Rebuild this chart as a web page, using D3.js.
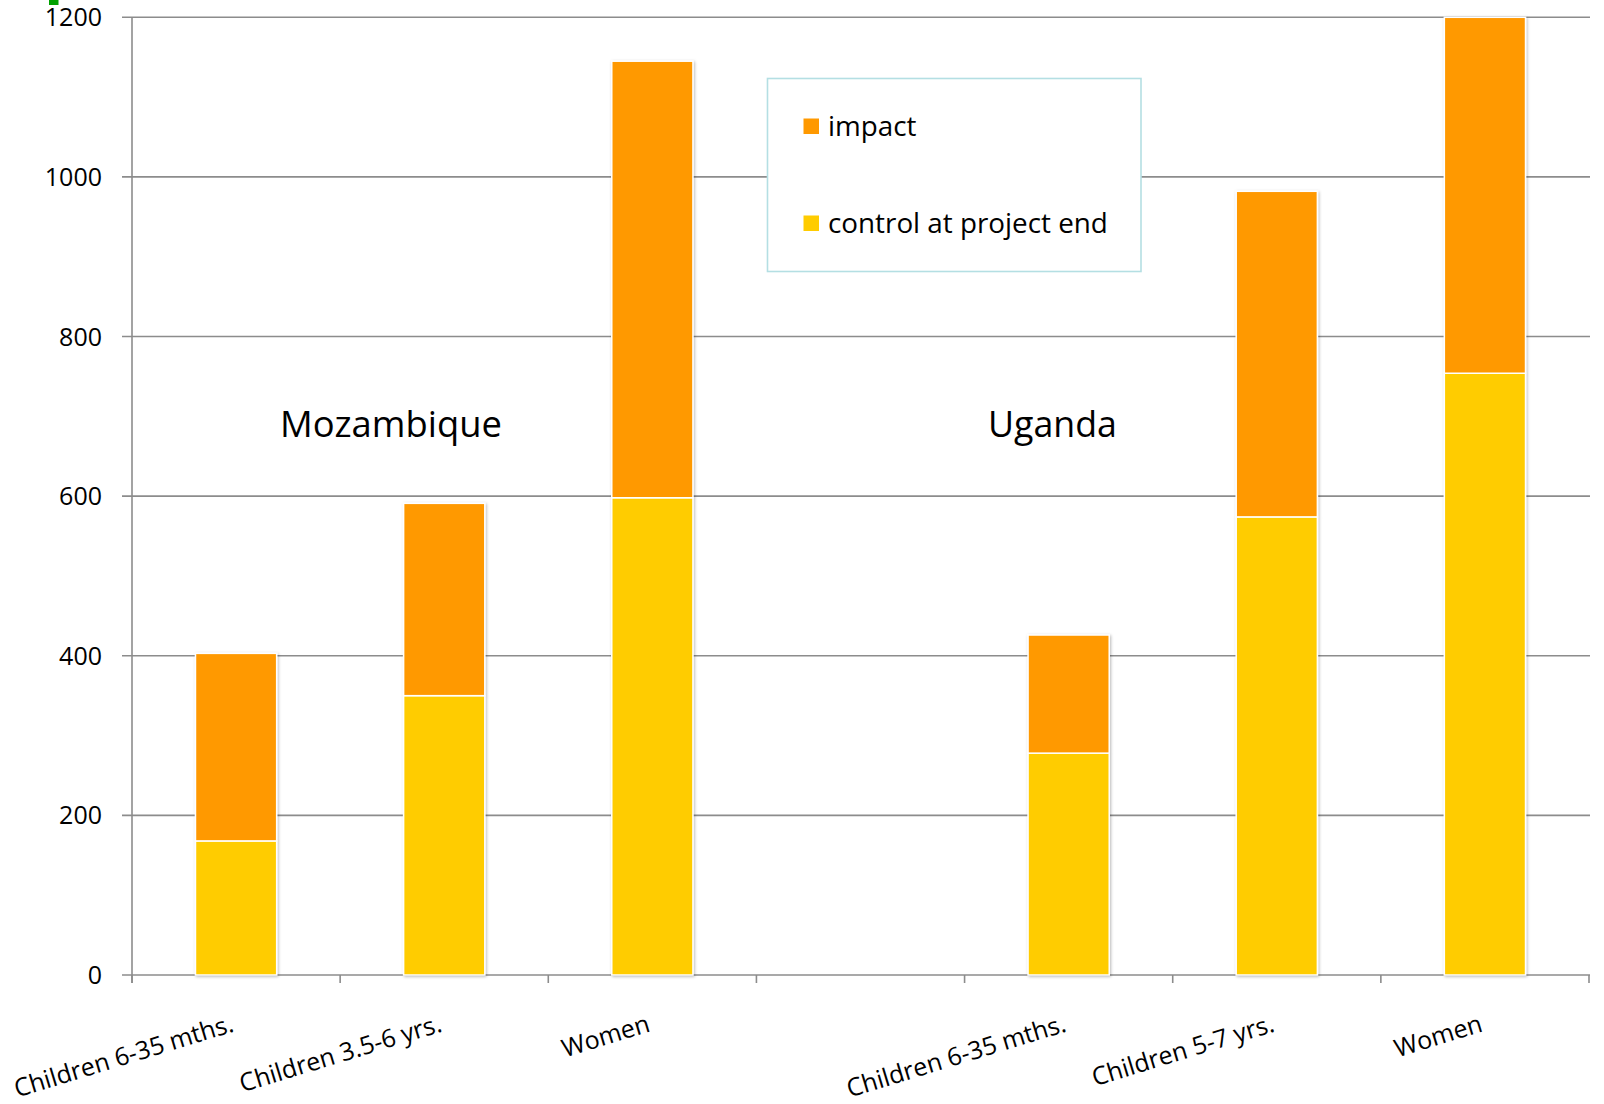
<!DOCTYPE html>
<html>
<head>
<meta charset="utf-8">
<script src="https://cdn.jsdelivr.net/npm/d3@7"></script>
<style>
  html, body { margin: 0; padding: 0; background: #ffffff; }
  svg { display: block; font-family: "Open Sans", "Noto Sans", sans-serif; }
</style>
</head>
<body>
<svg id="chart" width="1604" height="1104"></svg>
<script>
// ---- data ----
const categories = ["Children 6-35 mths.", "Children 3.5-6 yrs.", "Women", "", "Children 6-35 mths.", "Children 5-7 yrs.", "Women"];
const controlValues = [168, 350, 598, null, 278, 574, 754];
const impactValues  = [235, 241, 547, null, 148, 408, 446];
const yTicks = [0, 200, 400, 600, 800, 1000, 1200];
const seriesNames = ["impact", "control at project end"];
const groupLabels = ["Mozambique", "Uganda"];

// ---- setup ----
const svg = d3.select("#chart");
const W = 1604, H = 1104;
const plot = { left: 132, right: 1589, top: 17.3, bottom: 975 };
const colors = { impact: "#FF9900", control: "#FFCC00" };
const gridColor = "#8c8c8c";

const x = d3.scaleBand().domain(d3.range(categories.length)).range([plot.left, plot.right]).padding(0);
const y = d3.scaleLinear().domain([0, 1200]).range([plot.bottom, plot.top]);

const defs = svg.append("defs");
const f = defs.append("filter").attr("id", "shadow").attr("x", "-20%").attr("y", "-5%").attr("width", "140%").attr("height", "110%");
f.append("feDropShadow").attr("dx", 1).attr("dy", 1).attr("stdDeviation", 1.6).attr("flood-color", "#000").attr("flood-opacity", 0.28);

// fit helper
function fitText(sel, target) {
  const n = sel.node();
  const w = n.getComputedTextLength();
  const fs = parseFloat(sel.attr("font-size"));
  if (w > 0) sel.attr("font-size", fs * target / w);
}

// green artifact mark top-left
svg.append("rect").attr("x", 49).attr("y", 0).attr("width", 9.5).attr("height", 5).attr("fill", "#00a000");

// gridlines + y labels
const gy = svg.append("g");
yTicks.forEach(t => {
  gy.append("line")
    .attr("x1", plot.left - 10).attr("x2", plot.right + 1)
    .attr("y1", y(t)).attr("y2", y(t))
    .attr("stroke", gridColor).attr("stroke-width", 1.6);
  const tx = gy.append("text")
    .attr("x", 102).attr("y", y(t) + 9)
    .attr("text-anchor", "end")
    .attr("font-size", 25).attr("fill", "#000")
    .text(t);
});

// y axis line
svg.append("line").attr("x1", plot.left).attr("x2", plot.left)
  .attr("y1", plot.top).attr("y2", plot.bottom + 8)
  .attr("stroke", gridColor).attr("stroke-width", 1.6);

// x axis ticks at band boundaries
const boundaries = d3.range(categories.length + 1).map(i => i < categories.length ? x(i) : plot.right);
boundaries.forEach(bx => {
  svg.append("line").attr("x1", bx).attr("x2", bx)
    .attr("y1", plot.bottom).attr("y2", plot.bottom + 8)
    .attr("stroke", gridColor).attr("stroke-width", 1.6);
});

// bars
const barW = x.bandwidth() * 0.39;
const bars = svg.append("g");
categories.forEach((c, i) => {
  if (controlValues[i] == null) return;
  const cx = x(i) + x.bandwidth() / 2;
  const c0 = controlValues[i], c1 = controlValues[i] + impactValues[i];
  const g = bars.append("g").attr("filter", "url(#shadow)");
  g.append("rect")
    .attr("x", cx - barW / 2).attr("width", barW)
    .attr("y", y(c0)).attr("height", y(0) - y(c0))
    .attr("fill", colors.control).attr("stroke", "#fff").attr("stroke-width", 1.5);
  g.append("rect")
    .attr("x", cx - barW / 2).attr("width", barW)
    .attr("y", y(c1)).attr("height", y(c0) - y(c1))
    .attr("fill", colors.impact).attr("stroke", "#fff").attr("stroke-width", 1.5);
});

// x labels
const labelLengths = [228, 215, 94, 0, 228, 193, 94];
categories.forEach((c, i) => {
  if (!c) return;
  const cx = x(i) + x.bandwidth() / 2;
  const t = svg.append("text")
    .attr("text-anchor", "end")
    .attr("font-size", 22)
    .attr("fill", "#000")
    .attr("transform", `translate(${cx - 1},${1031}) rotate(-17)`)
    .text(c);
});
// scale x labels uniformly based on the first label width
(function () {
  const labels = svg.selectAll("text").filter(function () { return d3.select(this).attr("transform"); });
  const first = labels.filter(function () { return d3.select(this).text() === "Children 6-35 mths."; }).node();
  const w = first.getComputedTextLength();
  const fs = 22 * 228 / w;
  labels.attr("font-size", fs);
})();

// group labels
const moz = svg.append("text").attr("x", 280).attr("y", 437).attr("font-size", 34).attr("fill", "#000").text(groupLabels[0]);
fitText(moz, 222);
const uga = svg.append("text").attr("x", 988).attr("y", 437).attr("font-size", 34).attr("fill", "#000").text(groupLabels[1]);
fitText(uga, 129);

// legend
const lg = svg.append("g");
lg.append("rect").attr("x", 767.5).attr("y", 78.5).attr("width", 373.5).attr("height", 193)
  .attr("fill", "#fff").attr("stroke", "#b4dfe3").attr("stroke-width", 1.6);
const legendItems = [
  { name: seriesNames[0], color: colors.impact, sy: 118.5, ty: 136, w: 88 },
  { name: seriesNames[1], color: colors.control, sy: 215.5, ty: 233, w: 280 }
];
legendItems.forEach(d => {
  lg.append("rect").attr("x", 803.5).attr("y", d.sy).attr("width", 15.5).attr("height", 15.5).attr("fill", d.color);
  lg.append("text").attr("x", 828).attr("y", d.ty).attr("font-size", 26).attr("fill", "#000").text(d.name);
});
// fit legend fonts by longer label
(function () {
  const ts = lg.selectAll("text");
  const n = ts.nodes()[1];
  const w = n.getComputedTextLength();
  ts.attr("font-size", 26 * 280 / w);
})();
</script>
</body>
</html>
